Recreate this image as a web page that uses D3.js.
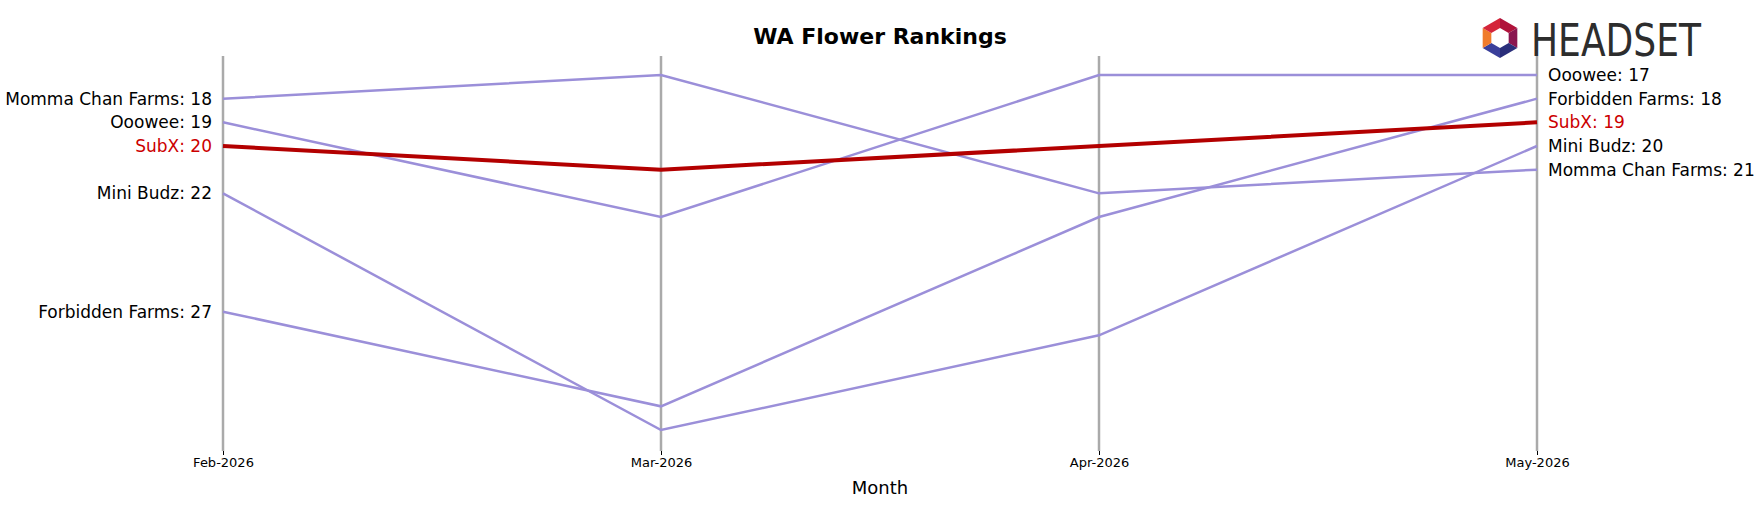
<!DOCTYPE html>
<html>
<head>
<meta charset="utf-8">
<script src="https://cdn.jsdelivr.net/npm/d3@7"></script>
<style>
  body { margin: 0; background: #fff; }
  text { font-family: "DejaVu Sans", sans-serif; }
</style>
</head>
<body>
<script>
const months = ["Feb-2026", "Mar-2026", "Apr-2026", "May-2026"];
const brands = ["Momma Chan Farms", "Ooowee", "SubX", "Mini Budz", "Forbidden Farms"];
const mommaChanFarms = [18, 17, 22, 21];
const ooowee = [19, 23, 17, 17];
const subX = [20, 21, 20, 19];
const miniBudz = [22, 32, 28, 20];
const forbiddenFarms = [27, 31, 23, 18];
const ranks = [mommaChanFarms, ooowee, subX, miniBudz, forbiddenFarms];
const highlight = "SubX";

const width = 1759, height = 507;
const svg = d3.select("body").append("svg").attr("width", width).attr("height", height);

const x = d3.scalePoint().domain(months).range([223, 1537]);
const y = d3.scaleLinear().domain([17, 32]).range([75, 430]);

svg.append("text").attr("x", 880).attr("y", 44).attr("text-anchor", "middle")
  .attr("font-size", 22).attr("font-weight", "bold").text("WA Flower Rankings");

svg.append("g").selectAll("line").data(months).enter().append("line")
  .attr("x1", (d) => x(d)).attr("x2", (d) => x(d))
  .attr("y1", 56).attr("y2", 451)
  .attr("stroke", "#aaa").attr("stroke-width", 2.5);

const axis = svg.append("g").attr("transform", "translate(0,451)")
  .call(d3.axisBottom(x).tickSize(4).tickPadding(3));
axis.select(".domain").remove();
axis.selectAll("text").attr("font-size", 13).attr("font-family", "DejaVu Sans");
axis.selectAll("line").attr("stroke", "#000");

svg.append("text").attr("x", 880).attr("y", 494).attr("text-anchor", "middle")
  .attr("font-size", 18).text("Month");

const line = d3.line().x((_, i) => x(months[i])).y((d) => y(d));
const series = brands.map((b, i) => ({ b, v: ranks[i] }));
const order = series.filter((s) => s.b !== highlight).concat(series.filter((s) => s.b === highlight));

svg.append("g").selectAll("path").data(order).enter().append("path")
  .attr("d", (s) => line(s.v)).attr("fill", "none")
  .attr("stroke", (s) => s.b === highlight ? "#b30000" : "#9b8fd9")
  .attr("stroke-width", (s) => s.b === highlight ? 4 : 2.5);

const lab = (idx, anchor, dx) => svg.append("g").selectAll("text").data(series).enter().append("text")
  .attr("x", x(months[idx]) + dx).attr("y", (s) => y(s.v[idx]))
  .attr("dy", "0.35em").attr("text-anchor", anchor).attr("font-size", 17)
  .attr("fill", (s) => s.b === highlight ? "#cc0000" : "#000")
  .text((s) => `${s.b}: ${s.v[idx]}`);
lab(0, "end", -11);
lab(3, "start", 11);

// logo
const lg = svg.append("g").attr("transform", "translate(1500,38)");
const hex = d3.range(6).map((i) => [20 * Math.cos(Math.PI / 3 * i - Math.PI / 2), 20 * Math.sin(Math.PI / 3 * i - Math.PI / 2)]);
const cols = ["#b0123a", "#8a1650", "#2a2e7a", "#3a3f9a", "#f07b2a", "#d4253a"];
hex.forEach((p, i) => {
  const q = hex[(i + 1) % 6];
  lg.append("path").attr("d", `M${p[0] * 0.5},${p[1] * 0.5}L${p}L${q}L${q[0] * 0.5},${q[1] * 0.5}Z`).attr("fill", cols[i]);
});
svg.append("text").attr("x", 1531).attr("y", 56).attr("font-size", 44)
  .attr("font-family", "DejaVu Sans Condensed").attr("fill", "#2d2d2d")
  .attr("textLength", 170).attr("lengthAdjust", "spacingAndGlyphs").text("HEADSET");
</script>
</body>
</html>
